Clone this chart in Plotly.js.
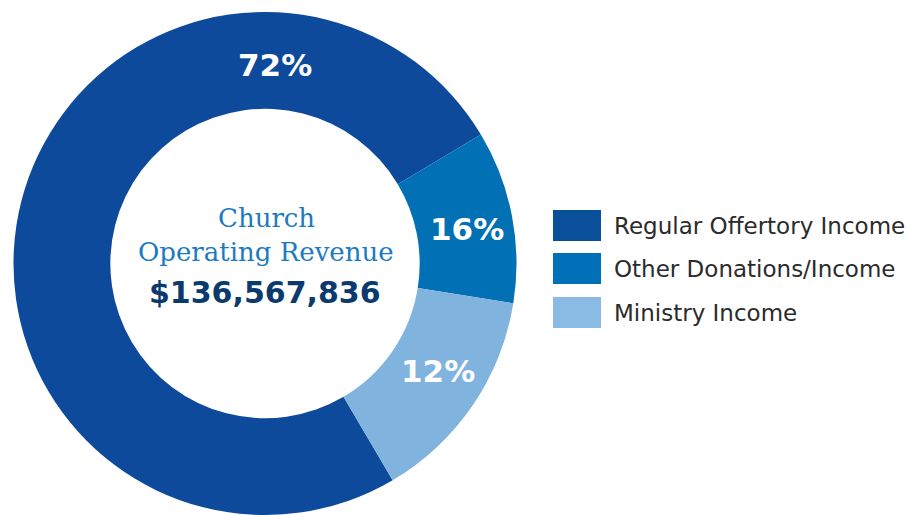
<!DOCTYPE html>
<html>
<head>
<meta charset="utf-8">
<script src="https://cdn.plot.ly/plotly-3.0.1.min.js"></script>
<style>
  html, body { margin: 0; padding: 0; background: #ffffff; }
  #chart { width: 923px; height: 515px; }
</style>
</head>
<body>
<div id="chart"></div>
<script>
// ---- data ----
const categories = ['Regular Offertory Income', 'Other Donations/Income', 'Ministry Income'];
// slice sizes as drawn (angles measured on the reference)
const sliceValues = [74.9, 11.1, 14.0];
// percentages printed on the slices
const printedLabels = ['72%', '16%', '12%'];
const centerTitle = ['Church', 'Operating Revenue'];
const centerTotal = '$136,567,836';

// ---- styling ----
const sliceColors = ['#0E4A9C', '#0270B4', '#80B3DD'];
const legendColors = ['#0A4F9A', '#0071B8', '#89BBE4'];

const W = 923, H = 515;
const px = x => x / W;
const py = y => 1 - y / H;

const trace = {
  type: 'pie',
  labels: categories,
  values: sliceValues,
  sort: false,
  direction: 'clockwise',
  rotation: 149.5,
  hole: 0.615,
  textinfo: 'none',
  hoverinfo: 'label+percent',
  marker: { colors: sliceColors, line: { color: 'rgba(255,255,255,0)', width: 0 } },
  domain: { x: [px(13), px(517)], y: [0, py(12)] },
  showlegend: false
};

const labelPos = [[275, 65], [467, 229], [438, 371]];
const annotations = [];
printedLabels.forEach((t, i) => {
  annotations.push({
    xref: 'paper', yref: 'paper', x: px(labelPos[i][0]), y: py(labelPos[i][1]),
    text: t, showarrow: false, xanchor: 'center', yanchor: 'middle',
    font: { family: 'DejaVu Sans, sans-serif', size: 31, color: '#ffffff', weight: 700 }
  });
});
annotations.push({
  xref: 'paper', yref: 'paper', x: px(266), y: py(218), text: centerTitle[0], showarrow: false,
  xanchor: 'center', yanchor: 'middle',
  font: { family: 'DejaVu Serif, serif', size: 26, color: '#1C7AC0' }
});
annotations.push({
  xref: 'paper', yref: 'paper', x: px(266), y: py(252), text: centerTitle[1], showarrow: false,
  xanchor: 'center', yanchor: 'middle',
  font: { family: 'DejaVu Serif, serif', size: 26, color: '#1C7AC0' }
});
annotations.push({
  xref: 'paper', yref: 'paper', x: px(265), y: py(292), text: centerTotal, showarrow: false,
  xanchor: 'center', yanchor: 'middle',
  font: { family: 'DejaVu Sans, sans-serif', size: 30, color: '#0B3A6F', weight: 700 }
});

const shapes = [];
const legendTops = [210, 253, 297];
categories.forEach((c, i) => {
  const top = legendTops[i];
  shapes.push({
    type: 'rect', xref: 'paper', yref: 'paper',
    x0: px(553), x1: px(601), y0: py(top), y1: py(top + 31),
    fillcolor: legendColors[i], line: { width: 0 }
  });
  annotations.push({
    xref: 'paper', yref: 'paper', x: px(612), y: py(top + 16), text: c, showarrow: false,
    xanchor: 'left', yanchor: 'middle',
    font: { family: 'DejaVu Sans, sans-serif', size: 23, color: '#2B2B2B' }
  });
});

const layout = {
  width: W, height: H,
  margin: { l: 0, r: 0, t: 0, b: 0 },
  paper_bgcolor: '#ffffff',
  showlegend: false,
  annotations: annotations,
  shapes: shapes
};

Plotly.newPlot('chart', [trace], layout, { displayModeBar: false, staticPlot: true });
</script>
</body>
</html>
